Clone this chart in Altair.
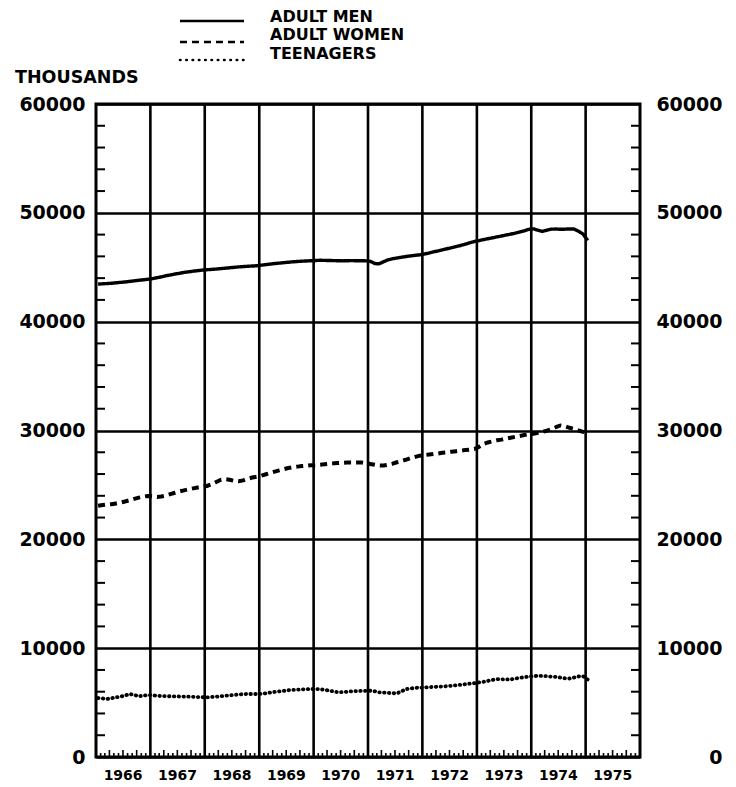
import altair as alt
import pandas as pd

# ---------------- data (thousands of persons, monthly Jan 1966 - Jan 1975) -------------
series_names = ["ADULT MEN", "ADULT WOMEN", "TEENAGERS"]
label_years = [1966, 1967, 1968, 1969, 1970, 1971, 1972, 1973, 1974, 1975]
y_labels = [0, 10000, 20000, 30000, 40000, 50000, 60000]

men = [
    43450, 43480, 43500, 43530, 43570, 43610, 43650, 43700, 43750, 43800, 43850, 43900,  # 1966
    43950, 44040, 44110, 44220, 44290, 44380, 44440, 44530, 44580, 44640, 44690, 44740,  # 1967
    44770, 44800, 44830, 44870, 44910, 44950, 44990, 45030, 45060, 45090, 45110, 45140,  # 1968
    45190, 45240, 45290, 45340, 45380, 45420, 45460, 45500, 45530, 45560, 45580, 45600,  # 1969
    45620, 45640, 45630, 45620, 45610, 45600, 45590, 45600, 45610, 45600, 45600, 45590,  # 1970
    45550, 45350, 45310, 45500, 45680, 45780, 45850, 45920, 45990, 46050, 46100, 46140,  # 1971
    46220, 46310, 46410, 46500, 46600, 46700, 46800, 46900, 47000, 47120, 47250, 47370,  # 1972
    47450, 47540, 47620, 47700, 47790, 47870, 47960, 48040, 48130, 48230, 48350, 48480,  # 1973
    48530, 48400, 48290, 48400, 48500, 48510, 48490, 48500, 48520, 48510, 48300, 48050,  # 1974
    47460,                                                                              # 1975
]

women = [
    23080, 23150, 23200, 23230, 23300, 23380, 23480, 23600, 23720, 23830, 23920, 23990,  # 1966
    23950, 23900, 23930, 24020, 24150, 24280, 24400, 24500, 24600, 24680, 24760, 24820,  # 1967
    24900, 25050, 25250, 25450, 25530, 25480, 25380, 25340, 25420, 25560, 25680, 25750,  # 1968
    25850, 25980, 26100, 26220, 26330, 26450, 26550, 26620, 26680, 26730, 26770, 26800,  # 1969
    26820, 26860, 26900, 26940, 26980, 27010, 27040, 27060, 27060, 27070, 27070, 27000,  # 1970
    26930, 26860, 26790, 26780, 26850, 26950, 27080, 27200, 27330, 27460, 27580, 27690,  # 1971
    27740, 27790, 27840, 27890, 27950, 28000, 28050, 28100, 28150, 28200, 28250, 28300,  # 1972
    28500, 28770, 28900, 29000, 29100, 29160, 29260, 29340, 29420, 29500, 29580, 29660,  # 1973
    29700, 29780, 29860, 29980, 30120, 30300, 30460, 30400, 30250, 30150, 30000, 29880,  # 1974
    29750,                                                                              # 1975
]

teens = [
    5420, 5380, 5330, 5400, 5480, 5550, 5650, 5790, 5700, 5580, 5640, 5700,  # 1966
    5680, 5620, 5600, 5580, 5580, 5570, 5560, 5550, 5540, 5530, 5510, 5490,  # 1967
    5480, 5510, 5540, 5580, 5620, 5660, 5700, 5740, 5780, 5790, 5790, 5790,  # 1968
    5800, 5860, 5920, 5980, 6030, 6080, 6130, 6170, 6190, 6210, 6230, 6250,  # 1969
    6250, 6220, 6180, 6100, 6020, 5950, 5960, 6000, 6040, 6060, 6070, 6080,  # 1970
    6090, 6040, 5940, 5920, 5890, 5860, 5850, 6050, 6240, 6300, 6350, 6380,  # 1971
    6390, 6420, 6440, 6460, 6480, 6510, 6550, 6590, 6640, 6690, 6740, 6780,  # 1972
    6850, 6910, 6990, 7080, 7150, 7140, 7130, 7120, 7200, 7280, 7330, 7380,  # 1973
    7420, 7460, 7450, 7420, 7380, 7360, 7300, 7230, 7210, 7300, 7400, 7420,  # 1974
    7120,                                                                    # 1975
]

series_values = [men, women, teens]

# ---------------- frames ----------------
months = pd.date_range("1966-01-01", periods=len(men), freq="MS") + pd.Timedelta(days=14)
year_starts = pd.date_range("1967-01-01", "1975-01-01", freq="YS")
all_month_starts = pd.date_range("1966-01-01", "1976-01-01", freq="MS")
quarter_ticks = [d for d in all_month_starts if d.month in (4, 7, 10)]
month_ticks = [d for d in all_month_starts if d.month not in (1, 4, 7, 10)]
minor_y = [v for v in range(2000, 60000, 2000) if v % 10000 != 0]
label_df = pd.DataFrame({
    "date": [pd.Timestamp(year=y, month=7, day=2) for y in label_years],
    "label": [str(y) for y in label_years],
})

W, H = 544, 653
FONT = "DejaVu Sans"

xs = alt.Scale(domain=[alt.DateTime(year=1966, month=1, date=1),
                       alt.DateTime(year=1976, month=1, date=1)], nice=False)
ys = alt.Scale(domain=[0, 60000], nice=False, zero=True)

y_axis_left = alt.Axis(
    values=y_labels, format="d", title=None, ticks=False, domain=False,
    grid=True, gridColor="black", gridWidth=2.3, gridOpacity=1,
    labelPadding=11, labelFontSize=19, labelFontWeight="bold", labelFont=FONT,
    labelColor="black", labelBaseline="middle", labelFlush=False, labelOverlap=False,
)
y_axis_right = alt.Axis(
    orient="right", values=y_labels, format="d", title=None, ticks=False,
    domain=False, grid=False, labelAlign="right", labelPadding=82,
    labelFontSize=19, labelFontWeight="bold", labelFont=FONT, labelColor="black",
    labelBaseline="middle", labelFlush=False, labelOverlap=False,
)

layers = []

# vertical year grid lines
vgrid = alt.Chart(pd.DataFrame({"date": year_starts})).mark_rule(
    color="black", strokeWidth=2.6
).encode(x=alt.X("date:T", scale=xs, axis=None))
layers.append(vgrid)

# bottom inward month ticks
qt = alt.Chart(pd.DataFrame({"date": quarter_ticks})).mark_rule(
    color="black", strokeWidth=1.6
).encode(x=alt.X("date:T", scale=xs, axis=None), y=alt.value(H), y2=alt.value(H - 7))
mt = alt.Chart(pd.DataFrame({"date": month_ticks})).mark_rule(
    color="black", strokeWidth=1.6
).encode(x=alt.X("date:T", scale=xs, axis=None), y=alt.value(H), y2=alt.value(H - 4))
layers += [qt, mt]

# year labels centred under each year interval
year_text = alt.Chart(label_df).mark_text(
    align="center", baseline="middle", font=FONT, fontSize=14,
    fontWeight="bold", color="black"
).encode(x=alt.X("date:T", scale=xs, axis=None), y=alt.value(H + 19), text="label:N")
layers.append(year_text)

# left / right inward minor y ticks
minor_df = pd.DataFrame({"v": minor_y})
lt = alt.Chart(minor_df).mark_rule(color="black", strokeWidth=2).encode(
    y=alt.Y("v:Q", scale=ys, axis=None), x=alt.value(0), x2=alt.value(9))
rt = alt.Chart(minor_df).mark_rule(color="black", strokeWidth=2).encode(
    y=alt.Y("v:Q", scale=ys, axis=y_axis_right), x=alt.value(W - 9), x2=alt.value(W))
layers += [lt, rt]

# data lines
styles = [
    dict(strokeWidth=3.4, strokeDash=[1, 0], strokeCap="butt"),
    dict(strokeWidth=4.0, strokeDash=[7, 5], strokeCap="butt"),
    dict(strokeWidth=3.8, strokeDash=[0.5, 4.3], strokeCap="round"),
]
for i, (name, vals) in enumerate(zip(series_names, series_values)):
    d = pd.DataFrame({"date": months, "value": vals, "series": name})
    ch = alt.Chart(d).mark_line(color="black", strokeJoin="round", **styles[i]).encode(
        x=alt.X("date:T", scale=xs, axis=None),
        y=alt.Y("value:Q", scale=ys, axis=y_axis_left if i == 0 else None),
    )
    layers.append(ch)

# legend (top)
legend_line_y = [-83, -62, -44]
legend_text_y = [-87, -69, -50.5]
legend_styles = [
    dict(strokeWidth=2.7, strokeDash=[1, 0], strokeCap="butt"),
    dict(strokeWidth=2.7, strokeDash=[7, 5], strokeCap="butt"),
    dict(strokeWidth=2.6, strokeDash=[0.5, 5.8], strokeCap="round"),
]
for i, name in enumerate(series_names):
    ld = pd.DataFrame({"label": [name]})
    layers.append(
        alt.Chart(ld).mark_rule(color="black", **legend_styles[i]).encode(
            x=alt.value(84), x2=alt.value(148), y=alt.value(legend_line_y[i]))
    )
    layers.append(
        alt.Chart(ld).mark_text(
            align="left", baseline="middle", font=FONT, fontSize=16,
            fontWeight="bold", color="black"
        ).encode(text="label:N", x=alt.value(174), y=alt.value(legend_text_y[i]))
    )

# unit caption
layers.append(
    alt.Chart(pd.DataFrame({"label": ["THOUSANDS"]})).mark_text(
        align="left", baseline="middle", font=FONT, fontSize=17.5,
        fontWeight="bold", color="black"
    ).encode(text="label:N", x=alt.value(-81), y=alt.value(-26.5))
)

chart = (
    alt.layer(*layers)
    .resolve_axis(y="independent")
    .properties(
        width=W, height=H,
        autosize=alt.AutoSizeParams(type="none"),
        padding={"left": 88, "top": 96, "right": 88, "bottom": 28},
        background="white",
    )
    .configure_view(stroke="black", strokeWidth=3)
)

chart.save("out.html", embed_options={"renderer": "svg", "actions": False})
